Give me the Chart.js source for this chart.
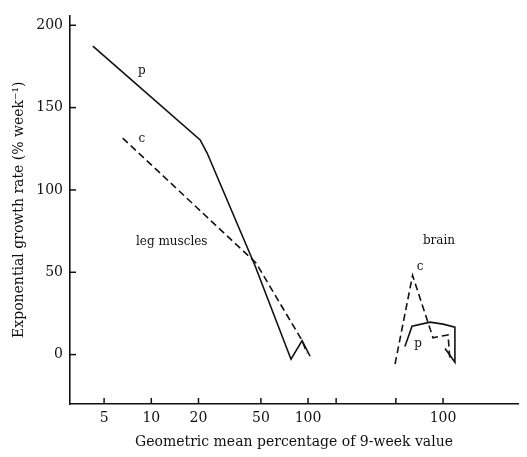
<!DOCTYPE html>
<html>
<head>
<meta charset="utf-8">
<script src="https://cdn.jsdelivr.net/npm/chart.js@4/dist/chart.umd.min.js"></script>
<style>
  html, body { margin: 0; padding: 0; background: #fff; }
  #wrap { width: 527px; height: 457px; }
</style>
</head>
<body>
<div id="wrap"><canvas id="chart"></canvas></div>
<script>
// Leg muscles (percent of 9-week value, growth rate % per week)
const legPX = [4.24, 20.5, 22.7, 45.9, 77.8, 91.6, 103];
const legPY = [187.3, 130.4, 122.4, 54.0, -2.8, 8.5, -1.0];
const legCX = [6.57, 46.6, 91.6, 98.4];
const legCY = [131.5, 55.6, 8.5, 0.8];

// Brain
const brainCX = [49.4, 63.9, 86.3, 107.6, 110.7];
const brainCY = [-5.7, 48.1, 10.2, 12.0, -3.6];
const brainPX = [57.1, 63.4, 82.6, 100, 119, 119, 103];
const brainPY = [4.9, 17.3, 19.7, 18.5, 16.7, -4.6, 3.7];

// Tick labels
const legTicks = [5, 10, 20, 50, 100];
const legTickLabels = ["5", "10", "20", "50", "100"];
const brainTicks = [50, 100];
const brainTickLabels = ["", "100"];
const yTicks = [0, 50, 100, 150, 200];

// the brain panel sits to the right on the same log axis
const brainShift = 0.861;
const breakTick = 2.179;

const legU = (v) => Math.log10(v);
const brainU = (v) => Math.log10(v) + brainShift;
const pts = (xs, ys, f) => xs.map((v, i) => ({ x: f(v), y: ys[i] }));

const notes = [
  { text: "p", x: legU(8.7), y: 172.4 },
  { text: "c", x: legU(8.7), y: 131.1 },
  { text: "leg muscles", x: legU(13.5), y: 68.2 },
  { text: "brain", x: brainU(94.2), y: 68.8 },
  { text: "c", x: brainU(71.3), y: 53.4 },
  { text: "p", x: brainU(69.2), y: 6.7 },
];

const xTicks = [];
legTicks.forEach((v, i) => xTicks.push({ value: legU(v), label: legTickLabels[i] }));
xTicks.push({ value: breakTick, label: "" });
brainTicks.forEach((v, i) => xTicks.push({ value: brainU(v), label: brainTickLabels[i] }));

const serif = "'DejaVu Serif', 'Liberation Serif', serif";
const ink = "#111";

// draw inward tick marks and the text notes
const marks = {
  id: "marks",
  afterDraw(chart) {
    const { ctx, scales: { x, y }, chartArea: a } = chart;
    ctx.save();
    ctx.strokeStyle = ink;
    ctx.lineWidth = 1.5;
    x.ticks.forEach((t) => {
      const px = x.getPixelForValue(t.value);
      ctx.beginPath();
      ctx.moveTo(px, a.bottom);
      ctx.lineTo(px, a.bottom - 6);
      ctx.stroke();
    });
    y.ticks.forEach((t) => {
      const py = y.getPixelForValue(t.value);
      ctx.beginPath();
      ctx.moveTo(a.left, py);
      ctx.lineTo(a.left + 6, py);
      ctx.stroke();
    });
    ctx.fillStyle = ink;
    ctx.font = "12px " + serif;
    ctx.textAlign = "center";
    ctx.textBaseline = "middle";
    notes.forEach((n) => {
      ctx.fillText(n.text, x.getPixelForValue(n.x), y.getPixelForValue(n.y));
    });
    ctx.restore();
  },
};

const line = (data, dashed) => ({
  data,
  borderColor: ink,
  borderWidth: 1.6,
  borderDash: dashed ? [7, 4] : [],
  pointRadius: 0,
  tension: 0,
  fill: false,
});

new Chart(document.getElementById("chart"), {
  type: "line",
  data: {
    datasets: [
      line(pts(legPX, legPY, legU), false),
      line(pts(legCX, legCY, legU), true),
      line(pts(brainPX, brainPY, brainU), false),
      line(pts(brainCX, brainCY, brainU), true),
    ],
  },
  plugins: [marks],
  options: {
    responsive: true,
    maintainAspectRatio: false,
    animation: false,
    layout: { padding: { top: 4, right: 9, left: 0, bottom: 0 } },
    plugins: { legend: { display: false }, tooltip: { enabled: false } },
    scales: {
      x: {
        type: "linear",
        min: Math.log10(3.03),
        max: 3.339,
        afterBuildTicks: (s) => { s.ticks = xTicks.map((t) => ({ value: t.value })); },
        afterFit: (s) => { s.height = 53; },
        grid: { drawOnChartArea: false, drawTicks: false },
        border: { display: true, color: ink, width: 1.6 },
        ticks: {
          autoSkip: false,
          maxRotation: 0,
          padding: 6,
          color: ink,
          font: { family: serif, size: 14 },
          callback: (v, i) => xTicks[i] ? xTicks[i].label : "",
        },
        title: {
          display: true,
          text: "Geometric mean percentage of 9-week value",
          color: ink,
          font: { family: serif, size: 14 },
          padding: { top: 0, bottom: 6 },
        },
      },
      y: {
        type: "linear",
        min: -30,
        max: 206,
        afterBuildTicks: (s) => { s.ticks = yTicks.map((v) => ({ value: v })); },
        afterFit: (s) => { s.width = 70; },
        grid: { drawOnChartArea: false, drawTicks: false },
        border: { display: true, color: ink, width: 1.6 },
        ticks: {
          padding: 7,
          color: ink,
          font: { family: serif, size: 14 },
        },
        title: {
          display: true,
          text: "Exponential growth rate (% week\u207B\u00B9)",
          color: ink,
          font: { family: serif, size: 14 },
          padding: { top: 11, bottom: 0 },
        },
      },
    },
  },
});
</script>
</body>
</html>
